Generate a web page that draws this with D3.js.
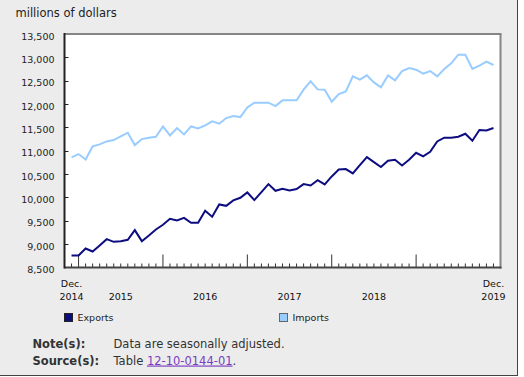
<!DOCTYPE html>
<html>
<head>
<meta charset="utf-8">
<script src="https://cdn.jsdelivr.net/npm/d3@7"></script>
<style>
  body { margin: 0; background: #fff; }
  svg { display: block; font-family: "DejaVu Sans", Verdana, sans-serif; }
</style>
</head>
<body>
<div id="chart"></div>
<script>
// Monthly values, Dec. 2014 to Dec. 2019, millions of dollars
const exportsData = [
  8757, 8757, 8907, 8843, 8971, 9107, 9050, 9064, 9093, 9300, 9064, 9186,
  9314, 9414, 9543, 9507, 9564, 9457, 9457, 9714, 9586, 9850, 9821, 9936,
  9993, 10107, 9943, 10114, 10286, 10143, 10186, 10150, 10179, 10286, 10257, 10371,
  10279, 10450, 10600, 10607, 10514, 10693, 10864, 10757, 10650, 10786, 10807, 10686,
  10807, 10957, 10879, 10979, 11200, 11279, 11279, 11300, 11364, 11214, 11443, 11436,
  11486
];
const importsData = [
  10857, 10929, 10814, 11093, 11136, 11200, 11229, 11307, 11386, 11121, 11250, 11279,
  11300, 11521, 11329, 11486, 11350, 11521, 11479, 11543, 11629, 11579, 11700, 11743,
  11721, 11929, 12029, 12029, 12029, 11957, 12079, 12079, 12079, 12307, 12486, 12314,
  12307, 12050, 12214, 12271, 12593, 12521, 12614, 12464, 12357, 12614, 12507, 12707,
  12771, 12736, 12650, 12707, 12593, 12750, 12871, 13057, 13057, 12750, 12821, 12907,
  12836
];
const yTicks = [8500, 9000, 9500, 10000, 10500, 11000, 11500, 12000, 12500, 13000, 13500];
const labelMonths = ["2014-12", "2015-07", "2016-07", "2017-07", "2018-07", "2019-12"];
const labelTop = ["Dec.", "", "", "", "", "Dec."];
const labelBottom = ["2014", "2015", "2016", "2017", "2018", "2019"];
const seriesNames = ["Exports", "Imports"];

// liste des mois
let months = [];
for (let k = 0; k < exportsData.length; k++) {
  let d = new Date(2014, 11 + k, 1);
  months.push(d3.timeFormat("%Y-%m")(d));
}

const width = 524;
const height = 377;

const svg = d3.select("#chart")
  .append("svg")
  .attr("width", width)
  .attr("height", height);

// fond gris + bordure
svg.append("rect")
  .attr("x", 0).attr("y", 0)
  .attr("width", 517).attr("height", 375)
  .attr("fill", "#ececec");
svg.append("line")
  .attr("x1", 517.5).attr("x2", 517.5).attr("y1", 0).attr("y2", 376)
  .attr("stroke", "#444").attr("stroke-width", 1);
svg.append("line")
  .attr("x1", 0).attr("x2", 518).attr("y1", 375.5).attr("y2", 375.5)
  .attr("stroke", "#444").attr("stroke-width", 1);

const plotLeft = 64.5, plotRight = 500.5, plotTop = 34, plotBottom = 267.5;

const x = d3.scaleLinear().domain([-1, months.length]).range([plotLeft, plotRight]);
const y = d3.scaleLinear().domain([8500, 13500]).range([plotBottom, plotTop]);

// zone du graphique
svg.append("rect")
  .attr("x", plotLeft).attr("y", plotTop)
  .attr("width", plotRight - plotLeft).attr("height", plotBottom - plotTop)
  .attr("fill", "#fff");

svg.append("line")
  .attr("x1", plotLeft).attr("x2", plotRight + 1).attr("y1", plotTop).attr("y2", plotTop)
  .attr("stroke", "#858585").attr("stroke-width", 2);
svg.append("line")
  .attr("x1", plotRight).attr("x2", plotRight).attr("y1", plotTop).attr("y2", plotBottom + 1)
  .attr("stroke", "#858585").attr("stroke-width", 2);

// titre de l'axe
svg.append("text")
  .attr("x", 15.5).attr("y", 16.5)
  .attr("font-size", "11.5px")
  .attr("fill", "#222")
  .text("millions of dollars");

// axe Y
svg.selectAll("line.ytick")
  .data(yTicks.slice(1, -1))
  .enter().append("line")
  .attr("class", "ytick")
  .attr("x1", plotLeft).attr("x2", plotLeft + 4)
  .attr("y1", d => Math.round(y(d)) + 0.5)
  .attr("y2", d => Math.round(y(d)) + 0.5)
  .attr("stroke", "#222");

svg.selectAll("text.ylab")
  .data(yTicks)
  .enter().append("text")
  .attr("class", "ylab")
  .attr("x", 54.5)
  .attr("y", d => y(d) + 5.5)
  .attr("text-anchor", "end")
  .attr("font-size", "9.5px")
  .attr("fill", "#222")
  .text(d => d3.format(",")(d));

// axe X : graduations mensuelles
svg.selectAll("line.xtick")
  .data(months)
  .enter().append("line")
  .attr("class", "xtick")
  .attr("x1", (d, i) => x(i)).attr("x2", (d, i) => x(i))
  .attr("y1", plotBottom)
  .attr("y2", d => d.slice(5) == "01" ? plotBottom - 13 : plotBottom - 4)
  .attr("stroke", "#333")
  .attr("stroke-width", 1);

svg.append("line")
  .attr("x1", plotLeft).attr("x2", plotRight + 1).attr("y1", plotBottom).attr("y2", plotBottom)
  .attr("stroke", "#444").attr("stroke-width", 2);
svg.append("line")
  .attr("x1", plotLeft).attr("x2", plotLeft).attr("y1", plotTop - 1).attr("y2", plotBottom + 1)
  .attr("stroke", "#222").attr("stroke-width", 2);

labelMonths.forEach(function(m, k) {
  let i = months.indexOf(m);
  svg.append("text")
    .attr("x", x(i)).attr("y", 287)
    .attr("text-anchor", "middle")
    .attr("font-size", "9.5px")
    .attr("fill", "#111")
    .text(labelTop[k]);
  svg.append("text")
    .attr("x", x(i)).attr("y", 300)
    .attr("text-anchor", "middle")
    .attr("font-size", "9.5px")
    .attr("fill", "#111")
    .text(labelBottom[k]);
});

// courbes
const line = d3.line()
  .x((d, i) => x(i))
  .y(d => y(d));

svg.append("path")
  .datum(importsData)
  .attr("d", line)
  .attr("fill", "none")
  .attr("stroke", "#99ccff")
  .attr("stroke-width", 2);

svg.append("path")
  .datum(exportsData)
  .attr("d", line)
  .attr("fill", "none")
  .attr("stroke", "#0d0d80")
  .attr("stroke-width", 2);

// légende
const legendX = [64.5, 279.5];
const legendFill = ["#0d0d80", "#99ccff"];
const legendStroke = ["#222", "#666"];
seriesNames.forEach(function(name, k) {
  svg.append("rect")
    .attr("x", legendX[k]).attr("y", 313.5)
    .attr("width", 8).attr("height", 8)
    .attr("fill", legendFill[k])
    .attr("stroke", legendStroke[k]);
  svg.append("text")
    .attr("x", legendX[k] + 13).attr("y", 320.8)
    .attr("font-size", "9.5px")
    .attr("fill", "#222")
    .text(name);
});

// notes
svg.append("text")
  .attr("x", 32.5).attr("y", 348)
  .attr("font-size", "11.5px").attr("font-weight", "bold")
  .attr("fill", "#333")
  .text("Note(s):");
svg.append("text")
  .attr("x", 113.5).attr("y", 348)
  .attr("font-size", "11.5px")
  .attr("fill", "#333")
  .text("Data are seasonally adjusted.");
svg.append("text")
  .attr("x", 32.5).attr("y", 364.5)
  .attr("font-size", "11.5px").attr("font-weight", "bold")
  .attr("fill", "#333")
  .text("Source(s):");

let src = svg.append("text")
  .attr("x", 113.5).attr("y", 364.5)
  .attr("font-size", "11.5px")
  .attr("fill", "#333");
src.append("tspan").text("Table ");
src.append("tspan")
  .attr("fill", "#7a3cc0")
  .attr("text-decoration", "underline")
  .text("12-10-0144-01");
src.append("tspan").text(".");
</script>
</body>
</html>
